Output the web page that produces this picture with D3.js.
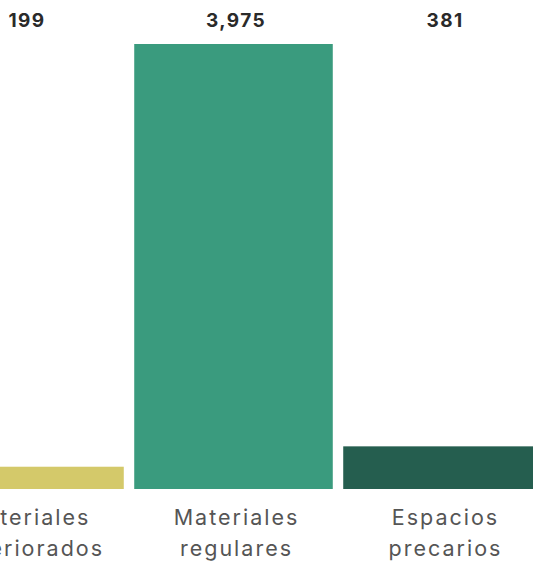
<!DOCTYPE html>
<html><head><meta charset="utf-8">
<script src="https://cdn.jsdelivr.net/npm/d3@7"></script>
<style>body{margin:0;background:#fff;}svg{display:block;}</style>
</head><body>
<svg id="c" width="533" height="565"></svg>
<script>
const categories = ["Materiales deteriorados", "Materiales regulares", "Espacios precarios"];
const labelLines = [["Materiales", "deteriorados"], ["Materiales", "regulares"], ["Espacios", "precarios"]];
const values = [199, 3975, 381];
const colors = ["#d4c96a", "#3a9b7e", "#255e4f"];

const svg = d3.select("#c");
const x = d3.scaleBand().domain(categories).range([-80, 547]).paddingInner(0.05).paddingOuter(0.025);
const y = d3.scaleLinear().domain([0, 3975]).range([489, 44]);
const fmt = d3.format(",");

svg.selectAll("rect.bar").data(values).join("rect")
  .attr("class", "bar")
  .attr("x", (d, i) => x(categories[i]))
  .attr("width", x.bandwidth())
  .attr("y", d => y(d))
  .attr("height", d => y(0) - y(d))
  .attr("fill", (d, i) => colors[i]);

svg.selectAll("text.val").data(values).join("text")
  .attr("class", "val")
  .attr("x", (d, i) => x(categories[i]) + x.bandwidth() / 2 + 2.5)
  .attr("y", 27)
  .attr("text-anchor", "middle")
  .attr("font-family", "Inter, 'Open Sans', sans-serif")
  .attr("font-weight", 700)
  .attr("font-size", 19)
  .attr("letter-spacing", 1.4)
  .attr("fill", "#2a2a2a")
  .text(d => fmt(d));

const lab = svg.selectAll("text.cat").data(categories).join("text")
  .attr("class", "cat")
  .attr("text-anchor", "middle")
  .attr("font-family", "Inter, 'Open Sans', sans-serif")
  .attr("font-size", 21.5)
  .attr("letter-spacing", 2)
  .attr("fill", "#555");
lab.each(function(d, i) {
  const t = d3.select(this);
  labelLines[i].forEach((ln, j) => {
    t.append("tspan")
      .attr("x", x(d) + x.bandwidth() / 2 + 3)
      .attr("y", 525 + j * 31)
      .text(ln);
  });
});
</script>
</body></html>
